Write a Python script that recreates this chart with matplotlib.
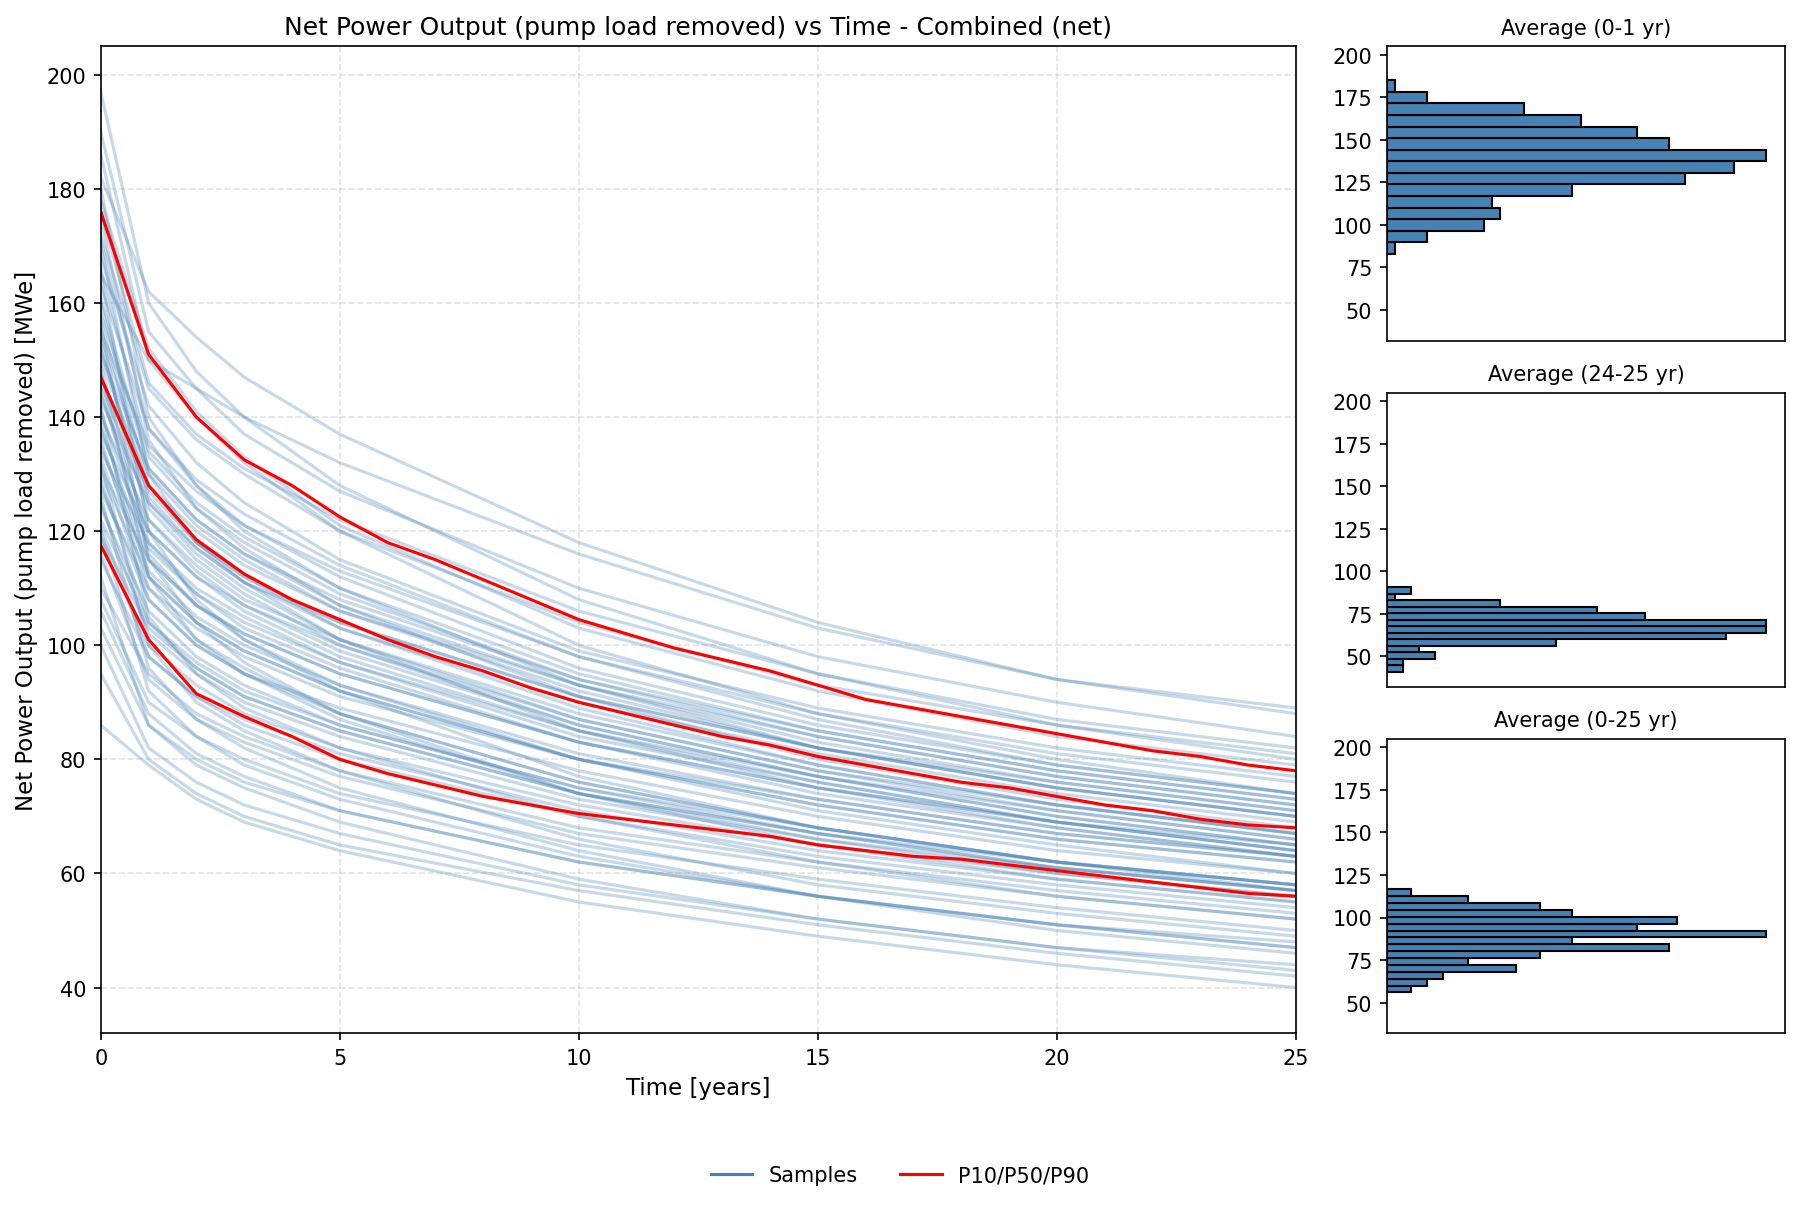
import numpy as np
import matplotlib
matplotlib.use('Agg')
import matplotlib.pyplot as plt
from matplotlib.lines import Line2D

# %% data
years_pct = np.arange(26)
p90 = [176, 151, 140, 132.5, 128, 122.5, 118, 115, 111.5, 108, 104.5, 102, 99.5,
       97.5, 95.5, 93, 90.5, 89, 87.5, 86, 84.5, 83, 81.5, 80.5, 79, 78]
p50 = [147, 128, 118.5, 112.5, 108, 104.5, 101, 98, 95.5, 92.5, 90, 88, 86,
       84, 82.5, 80.5, 79, 77.5, 76, 75, 73.5, 72, 71, 69.5, 68.5, 68]
p10 = [117.5, 101, 91.5, 87.5, 84, 80, 77.5, 75.5, 73.5, 72, 70.5, 69.5, 68.5,
       67.5, 66.5, 65, 64, 63, 62.5, 61.5, 60.5, 59.5, 58.5, 57.5, 56.5, 56]

years_s = [0, 1, 2, 3, 5, 10, 15, 20, 25]
samples = [
    [197, 160, 148, 140, 128, 108, 95, 86, 80],
    [190, 155, 145, 137, 127, 110, 98, 90, 84],
    [186, 150, 140, 132, 120, 100, 88, 80, 74],
    [182, 162, 154, 147, 137, 118, 104, 94, 88],
    [180, 140, 128, 120, 110, 93, 82, 75, 70],
    [178, 152, 141, 133, 121, 103, 92, 84, 79],
    [176, 146, 137, 131, 122, 106, 95, 87, 82],
    [175, 136, 124, 117, 107, 91, 80, 73, 68],
    [172, 145, 136, 130, 120, 104, 93, 86, 81],
    [171, 138, 129, 123, 114, 98, 87, 79, 74],
    [170, 130, 118, 111, 101, 85, 75, 68, 63],
    [168, 142, 132, 125, 115, 99, 89, 82, 77],
    [166, 134, 125, 119, 110, 95, 85, 78, 73],
    [165, 150, 145, 140, 132, 116, 103, 94, 89],
    [165, 120, 108, 101, 92, 77, 68, 62, 57],
    [163, 138, 128, 121, 112, 96, 86, 79, 74],
    [161, 131, 122, 116, 107, 93, 83, 76, 71],
    [160, 128, 118, 112, 103, 89, 79, 72, 67],
    [158, 133, 124, 118, 109, 94, 84, 77, 72],
    [157, 126, 117, 111, 103, 90, 81, 74, 69],
    [156, 115, 104, 97, 88, 74, 65, 59, 55],
    [155, 135, 127, 121, 113, 98, 88, 81, 76],
    [154, 130, 121, 115, 106, 92, 82, 75, 70],
    [153, 122, 113, 107, 99, 86, 77, 70, 65],
    [152, 125, 116, 110, 101, 87, 78, 71, 66],
    [151, 131, 122, 116, 108, 94, 85, 78, 73],
    [150, 128, 120, 114, 106, 93, 84, 77, 72],
    [149, 118, 109, 103, 96, 83, 75, 69, 64],
    [148, 112, 101, 95, 87, 74, 66, 60, 56],
    [147, 127, 118, 112, 104, 91, 82, 75, 70],
    [146, 124, 115, 109, 100, 86, 77, 70, 65],
    [145, 116, 107, 102, 95, 83, 74, 68, 63],
    [144, 120, 112, 106, 98, 85, 76, 69, 64],
    [143, 125, 117, 111, 104, 91, 82, 76, 71],
    [142, 105, 95, 89, 82, 70, 62, 56, 52],
    [141, 117, 109, 104, 97, 85, 77, 71, 66],
    [140, 122, 114, 108, 101, 88, 79, 72, 67],
    [139, 112, 104, 99, 92, 80, 72, 66, 62],
    [138, 115, 107, 101, 93, 80, 71, 65, 60],
    [137, 120, 112, 107, 100, 87, 78, 72, 67],
    [136, 110, 101, 96, 88, 76, 68, 62, 58],
    [135, 113, 105, 100, 93, 81, 73, 67, 63],
    [134, 118, 110, 105, 97, 84, 76, 69, 64],
    [133, 108, 100, 95, 89, 78, 70, 64, 60],
    [132, 100, 90, 85, 78, 66, 58, 53, 49],
    [131, 115, 107, 102, 95, 83, 75, 69, 65],
    [130, 112, 104, 99, 92, 80, 72, 66, 62],
    [129, 104, 96, 91, 85, 74, 67, 61, 57],
    [128, 108, 100, 95, 88, 76, 68, 62, 58],
    [127, 110, 103, 98, 91, 80, 73, 67, 63],
    [126, 96, 87, 82, 75, 64, 56, 50, 46],
    [125, 102, 95, 90, 84, 73, 66, 61, 57],
    [124, 106, 98, 93, 86, 75, 67, 61, 57],
    [122, 104, 97, 92, 86, 75, 68, 62, 58],
    [121, 98, 91, 87, 81, 71, 64, 59, 55],
    [120, 92, 84, 79, 73, 63, 56, 51, 47],
    [119, 103, 96, 91, 85, 74, 67, 62, 58],
    [118, 100, 93, 88, 82, 72, 65, 60, 56],
    [116, 94, 87, 83, 77, 67, 61, 56, 52],
    [115, 98, 91, 86, 80, 70, 63, 58, 54],
    [112, 86, 79, 75, 69, 59, 52, 47, 43],
    [110, 95, 88, 84, 78, 68, 62, 57, 53],
    [108, 90, 84, 80, 74, 65, 59, 54, 50],
    [106, 88, 81, 77, 71, 62, 56, 51, 47],
    [103, 86, 80, 76, 71, 62, 56, 51, 48],
    [100, 82, 76, 72, 67, 58, 52, 47, 44],
    [95, 80, 74, 70, 65, 57, 51, 46, 42],
    [86, 79, 73, 69, 64, 55, 49, 44, 40],
]

# histograms: (bin range, counts bottom->top)
h1_range = (83, 185)
h1_counts = [1, 5, 12, 14, 13, 23, 37, 43, 47, 35, 31, 24, 17, 5, 1]
h2_range = (41, 90.5)
h2_counts = [2, 2, 6, 4, 21, 42, 47, 47, 32, 26, 14, 1, 3]
h3_range = (56, 116.5)
h3_counts = [3, 5, 7, 16, 10, 19, 35, 23, 47, 31, 36, 23, 19, 10, 3]
hist_titles = ['Average (0-1 yr)', 'Average (24-25 yr)', 'Average (0-25 yr)']

# %% figure
fig = plt.figure(figsize=(12, 8.073), dpi=150)
ax = fig.add_axes([0.056, 0.146, 0.664, 0.815])
for s in samples:
    ax.plot(years_s, s, color='steelblue', alpha=0.3, lw=1.5)
for p in (p10, p50, p90):
    ax.plot(years_pct, p, color='red', lw=1.5)
ax.set_xlim(0, 25)
ax.set_ylim(32, 205)
ax.grid(True, ls='--', alpha=0.35)
ax.set_xlabel('Time [years]', fontsize=11)
ax.set_ylabel('Net Power Output (pump load removed) [MWe]', fontsize=11)
ax.set_title('Net Power Output (pump load removed) vs Time - Combined (net)', fontsize=12)

boxes = [0.718, 0.432, 0.146]
for b, rng, cnt, t in zip(boxes, [h1_range, h2_range, h3_range],
                          [h1_counts, h2_counts, h3_counts], hist_titles):
    h = fig.add_axes([0.7705, b, 0.2212, 0.243])
    edges = np.linspace(rng[0], rng[1], len(cnt) + 1)
    centers = (edges[:-1] + edges[1:]) / 2
    h.hist(centers, bins=edges, weights=cnt, orientation='horizontal',
           color='steelblue', edgecolor='black')
    h.set_ylim(32, 205)
    h.set_yticks([50, 75, 100, 125, 150, 175, 200])
    h.set_xticks([])
    h.set_title(t, fontsize=10)

handles = [Line2D([], [], color='steelblue', lw=1.5),
           Line2D([], [], color='red', lw=1.5)]
fig.legend(handles, ['Samples', 'P10/P50/P90'], loc='lower center', ncol=2,
           frameon=False, bbox_to_anchor=(0.5, 0.005), fontsize=10)
fig.savefig('out.png')
